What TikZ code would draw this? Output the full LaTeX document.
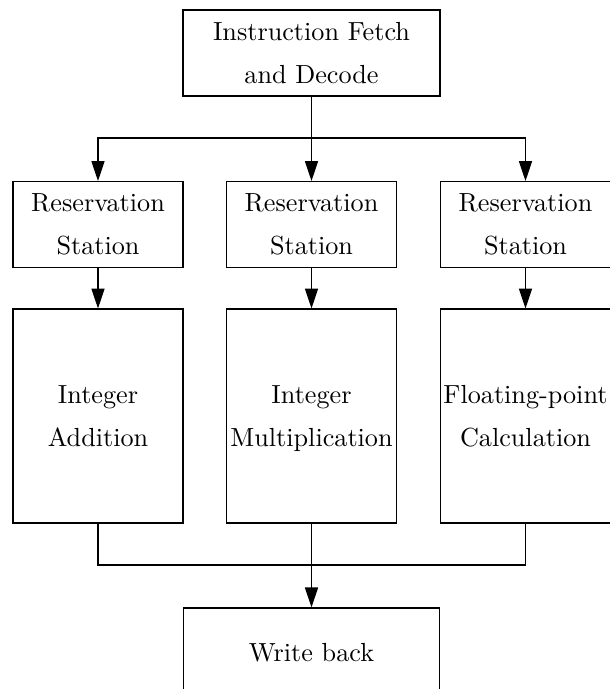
\documentclass[tikz,border=0pt]{standalone}
\usetikzlibrary{arrows.meta}
\begin{document}
\begin{tikzpicture}[x=0.382pt,y=-0.382pt,
  box/.style={draw, line width=0.45pt, inner sep=0pt, align=center, font=\fontsize{10}{16.4}\selectfont},
  rsbox/.style={box, minimum width=64.9pt, minimum height=32.5pt},
  fubox/.style={box, minimum width=64.9pt, minimum height=81.7pt},
  conn/.style={line width=0.45pt},
  arr/.style={conn, -{Triangle[length=7.6pt,width=5pt]}}]
\useasboundingbox (0,0) rectangle (610,689);
\node[box, minimum width=98.2pt, minimum height=32.9pt] (top) at (311.5,53) {\strut Instruction Fetch\\\strut and Decode};
\node[rsbox] (r1) at (98,224.5) {\strut Reservation\\\strut Station};
\node[rsbox] (r2) at (311.5,224.5) {\strut Reservation\\\strut Station};
\node[rsbox] (r3) at (525.5,224.5) {\strut Reservation\\\strut Station};
\node[fubox] (f1) at (98,416) {\strut Integer\\\strut Addition};
\node[fubox] (f2) at (311.5,416) {\strut Integer\\\strut Multiplication};
\node[fubox] (f3) at (525.5,416) {\strut Floating-point\\\strut Calculation};
\node[box, minimum width=97.8pt, minimum height=34.4pt] (wb) at (311.5,653) {\strut Write back};
\coordinate (j1) at (311.5,138);
\coordinate (j2) at (311.5,565);
\draw[arr] (top.south) -- (r2.north);
\draw[arr] (j1) -| (r1.north);
\draw[arr] (j1) -| (r3.north);
\draw[arr] (r1.south) -- (f1.north);
\draw[arr] (r2.south) -- (f2.north);
\draw[arr] (r3.south) -- (f3.north);
\draw[conn] (f1.south) |- (j2);
\draw[conn] (f3.south) |- (j2);
\draw[arr] (f2.south) -- (wb.north);
\end{tikzpicture}
\end{document}
